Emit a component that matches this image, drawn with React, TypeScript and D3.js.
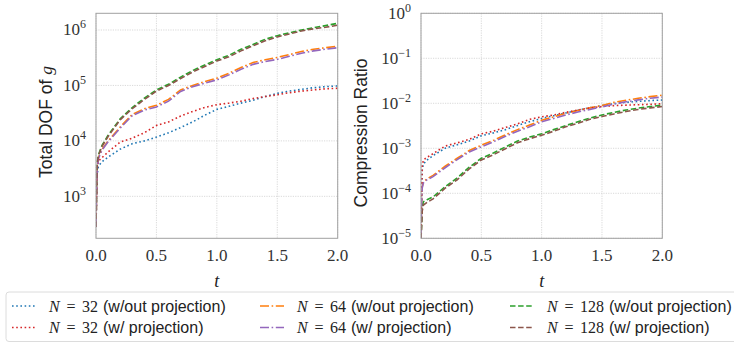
import React from "react";
import * as d3 from "d3";

const tValues = [0, 0.005, 0.01, 0.02, 0.05, 0.1, 0.2, 0.3, 0.4, 0.5, 0.6, 0.7, 0.8, 0.9, 1.0, 1.1, 1.2, 1.3, 1.4, 1.5, 1.6, 1.7, 1.8, 1.9, 2.0];

// Total DOF of g
const dof32NoProj = [280, 1.0e3, 2.5e3, 3.5e3, 4.2e3, 5.1e3, 7.1e3, 8.9e3, 1.0e4, 1.17e4, 1.4e4, 1.74e4, 2.2e4, 2.9e4, 3.7e4, 4.2e4, 4.8e4, 5.4e4, 6.3e4, 7.2e4, 7.9e4, 8.5e4, 9.1e4, 9.5e4, 9.8e4];
const dof32Proj = [280, 1.26e3, 3.2e3, 4.3e3, 5.0e3, 6.3e3, 9.5e3, 1.12e4, 1.4e4, 1.9e4, 2.2e4, 2.8e4, 3.4e4, 4.0e4, 4.5e4, 4.8e4, 5.2e4, 5.8e4, 6.3e4, 6.8e4, 7.4e4, 7.9e4, 8.3e4, 8.7e4, 8.9e4];
const dof64NoProj = [280, 1.26e3, 3.5e3, 5.0e3, 7.1e3, 1.0e4, 1.78e4, 3.0e4, 3.8e4, 4.4e4, 5.6e4, 8.3e4, 1.0e5, 1.17e5, 1.35e5, 1.66e5, 2.1e5, 2.6e5, 2.9e5, 3.2e5, 3.6e5, 4.1e5, 4.5e5, 4.8e5, 5.1e5];
const dof64Proj = [280, 1.2e3, 3.3e3, 4.8e3, 6.8e3, 9.6e3, 1.7e4, 2.85e4, 3.6e4, 4.1e4, 5.2e4, 7.8e4, 9.5e4, 1.1e5, 1.26e5, 1.55e5, 1.95e5, 2.4e5, 2.7e5, 2.95e5, 3.35e5, 3.8e5, 4.2e5, 4.5e5, 4.8e5];
const dof128NoProj = [280, 1.6e3, 4.0e3, 5.6e3, 8.3e3, 1.26e4, 2.5e4, 4.0e4, 5.9e4, 8.3e4, 1.05e5, 1.41e5, 1.86e5, 2.34e5, 2.9e5, 3.5e5, 4.5e5, 5.5e5, 6.8e5, 7.9e5, 8.9e5, 1.0e6, 1.1e6, 1.2e6, 1.32e6];
const dof128Proj = [280, 1.5e3, 3.8e3, 5.4e3, 8.0e3, 1.2e4, 2.4e4, 3.8e4, 5.6e4, 7.9e4, 1.0e5, 1.33e5, 1.75e5, 2.2e5, 2.75e5, 3.3e5, 4.2e5, 5.2e5, 6.4e5, 7.5e5, 8.5e5, 9.6e5, 1.05e6, 1.12e6, 1.22e6];

// Compression ratio
const cr32NoProj = [1e-5, 8e-5, 3.2e-4, 4.5e-4, 5.5e-4, 6.9e-4, 1.0e-3, 1.2e-3, 1.45e-3, 1.9e-3, 2.2e-3, 2.6e-3, 3.2e-3, 3.9e-3, 4.6e-3, 5.3e-3, 6.1e-3, 7.0e-3, 8.0e-3, 8.9e-3, 9.8e-3, 1.05e-2, 1.1e-2, 1.15e-2, 1.18e-2];
const cr32Proj = [1e-5, 1.0e-4, 4.0e-4, 5.5e-4, 6.3e-4, 7.6e-4, 1.12e-3, 1.32e-3, 1.58e-3, 2.1e-3, 2.4e-3, 2.9e-3, 3.5e-3, 4.4e-3, 5.0e-3, 5.5e-3, 6.3e-3, 7.1e-3, 7.9e-3, 8.5e-3, 8.9e-3, 9.1e-3, 9.3e-3, 9.5e-3, 9.8e-3];
const cr64NoProj = [1e-5, 6.3e-5, 1.4e-4, 1.8e-4, 2.1e-4, 2.5e-4, 4.0e-4, 6.0e-4, 8.9e-4, 1.17e-3, 1.5e-3, 2.0e-3, 2.6e-3, 3.3e-3, 4.2e-3, 5.0e-3, 6.0e-3, 6.9e-3, 7.9e-3, 8.9e-3, 1.05e-2, 1.17e-2, 1.29e-2, 1.41e-2, 1.51e-2];
const cr64Proj = [1e-5, 5.8e-5, 1.3e-4, 1.7e-4, 2.0e-4, 2.35e-4, 3.7e-4, 5.6e-4, 8.3e-4, 1.08e-3, 1.4e-3, 1.85e-3, 2.4e-3, 3.0e-3, 3.9e-3, 4.6e-3, 5.5e-3, 6.4e-3, 7.3e-3, 8.3e-3, 9.7e-3, 1.08e-2, 1.19e-2, 1.3e-2, 1.38e-2];
const cr128NoProj = [1e-5, 2.0e-5, 5.0e-5, 6.5e-5, 7.2e-5, 8.3e-5, 1.4e-4, 2.2e-4, 3.8e-4, 6.0e-4, 7.9e-4, 1.07e-3, 1.45e-3, 1.78e-3, 2.1e-3, 2.6e-3, 3.2e-3, 3.9e-3, 4.7e-3, 5.5e-3, 6.3e-3, 7.1e-3, 7.8e-3, 8.5e-3, 9.1e-3];
const cr128Proj = [1e-5, 1.8e-5, 4.0e-5, 5.5e-5, 6.3e-5, 7.5e-5, 1.3e-4, 2.0e-4, 3.5e-4, 5.5e-4, 7.2e-4, 9.8e-4, 1.33e-3, 1.63e-3, 1.95e-3, 2.4e-3, 3.0e-3, 3.6e-3, 4.4e-3, 5.1e-3, 5.8e-3, 6.6e-3, 7.3e-3, 7.9e-3, 8.5e-3];

const xTicks = [0, 0.5, 1.0, 1.5, 2.0];
const dofTickExps = [3, 4, 5, 6];
const crTickExps = [-5, -4, -3, -2, -1, 0];

const seriesNames = ["n32", "n64", "n128", "n32p", "n64p", "n128p"];
const seriesNs = [32, 64, 128, 32, 64, 128];
const seriesLabels = ["(w/out projection)", "(w/out projection)", "(w/out projection)", "(w/ projection)", "(w/ projection)", "(w/ projection)"];
const seriesColors = ["#1f77b4", "#ff7f0e", "#2ca02c", "#d62728", "#9467bd", "#8c564b"];
const dofSeries = [dof32NoProj, dof64NoProj, dof128NoProj, dof32Proj, dof64Proj, dof128Proj];
const crSeries = [cr32NoProj, cr64NoProj, cr128NoProj, cr32Proj, cr64Proj, cr128Proj];
// legend order (column-major)
const legendOrder = [0, 3, 1, 4, 2, 5];

const SERIF = "Liberation Serif, DejaVu Serif, serif";
const SANS = "Liberation Sans, Arial, sans-serif";
const LW = 1.6;
const dashFor = (n: number) =>
  n === 32 ? "1.6,2.6" : n === 64 ? "9,2.6,1.6,2.6" : "5.5,2.6";

const SUP = (e: number) => (e < 0 ? "\u2212" + Math.abs(e) : String(e));

function Panel({ id, x0, x1, y0, y1, domain, tickExps, series, ylabel, ylabelX, ylabelY }: any) {
  const xs = d3.scaleLinear().domain([0, 2]).range([x0, x1]);
  const ys = d3.scaleLog().domain(domain).range([y1, y0]);
  const line = d3
    .line<number>()
    .x((_, i) => xs(tValues[i]))
    .y((d) => ys(d));
  return (
    <g>
      <defs>
        <clipPath id={id}>
          <rect x={x0} y={y0} width={x1 - x0} height={y1 - y0} />
        </clipPath>
      </defs>
      {xTicks.map((t) => (
        <line key={"gx" + t} x1={xs(t)} x2={xs(t)} y1={y0} y2={y1} stroke="#cfcfcf" strokeWidth={0.8} strokeDasharray="1.2,1.2" />
      ))}
      {tickExps.map((e: number) => (
        <line key={"gy" + e} x1={x0} x2={x1} y1={ys(Math.pow(10, e))} y2={ys(Math.pow(10, e))} stroke="#cfcfcf" strokeWidth={0.8} strokeDasharray="1.2,1.2" />
      ))}
      <g clipPath={`url(#${id})`}>
        {series.map((s: number[], i: number) => (
          <path key={seriesNames[i]} d={line(s) || ""} fill="none" stroke={seriesColors[i]} strokeWidth={LW} strokeDasharray={dashFor(seriesNs[i])} />
        ))}
      </g>
      <rect x={x0} y={y0} width={x1 - x0} height={y1 - y0} fill="none" stroke="#a0a0a0" strokeWidth={1} />
      {xTicks.map((t) => (
        <text key={"xl" + t} x={xs(t)} y={261} textAnchor="middle" fontFamily={SERIF} fontSize={17} fill="#333">
          {t.toFixed(1)}
        </text>
      ))}
      <text x={(x0 + x1) / 2} y={287} textAnchor="middle" fontFamily={SERIF} fontStyle="italic" fontSize={18} fill="#222">
        t
      </text>
      {tickExps.map((e: number) => (
        <text key={"yl" + e} x={x0 - 10} y={ys(Math.pow(10, e)) + 5.5} textAnchor="end" fontFamily={SERIF} fontSize={17} fill="#333">
          10
          <tspan dy={-7} fontSize={12}>{SUP(e)}</tspan>
        </text>
      ))}
      <g transform={`translate(${ylabelX},${ylabelY}) rotate(-90)`}>{ylabel}</g>
    </g>
  );
}

export default function App() {
  const legendCols = [12, 260, 510];
  const legendRows = [306, 327.5];
  return (
    <svg width={734} height={343} style={{ position: "absolute", left: 0, top: 0, background: "#fff" }}>
      <Panel
        id="clipL"
        x0={96}
        x1={337.7}
        y0={13.3}
        y1={238.3}
        domain={[175, 2.0e6]}
        tickExps={dofTickExps}
        series={dofSeries}
        ylabelX={51.5}
        ylabelY={122}
        ylabel={
          <text textAnchor="middle" fontFamily={SANS} fontSize={17.5} fill="#222">
            Total DOF of <tspan fontFamily={SERIF} fontStyle="italic">g</tspan>
          </text>
        }
      />
      <Panel
        id="clipR"
        x0={421}
        x1={662.3}
        y0={13.3}
        y1={238.3}
        domain={[1e-5, 1]}
        tickExps={crTickExps}
        series={crSeries}
        ylabelX={367}
        ylabelY={133}
        ylabel={
          <text textAnchor="middle" fontFamily={SANS} fontSize={17.5} fill="#222">
            Compression Ratio
          </text>
        }
      />
      <rect x={6} y={292} width={740} height={49.5} rx={3} fill="#fff" stroke="#dcdcdc" strokeWidth={1} />
      {legendOrder.map((si, k) => {
        const cx = legendCols[Math.floor(k / 2)];
        const cy = legendRows[k % 2];
        const tx = cx + 37;
        const numW = String(seriesNs[si]).length * 8;
        return (
          <g key={"lg" + si}>
            <line x1={cx} x2={cx + 24} y1={cy} y2={cy} stroke={seriesColors[si]} strokeWidth={LW} strokeDasharray={dashFor(seriesNs[si])} />
            <text y={cy + 5.5} fontSize={16} fill="#222">
              <tspan x={tx} fontFamily={SERIF} fontStyle="italic">N</tspan>
              <tspan x={tx + 17.5} fontFamily={SERIF}>=</tspan>
              <tspan x={tx + 33} fontFamily={SERIF}>{String(seriesNs[si])}</tspan>
              <tspan x={tx + 38 + numW} fontFamily={SANS}>{seriesLabels[si]}</tspan>
            </text>
          </g>
        );
      })}
    </svg>
  );
}
